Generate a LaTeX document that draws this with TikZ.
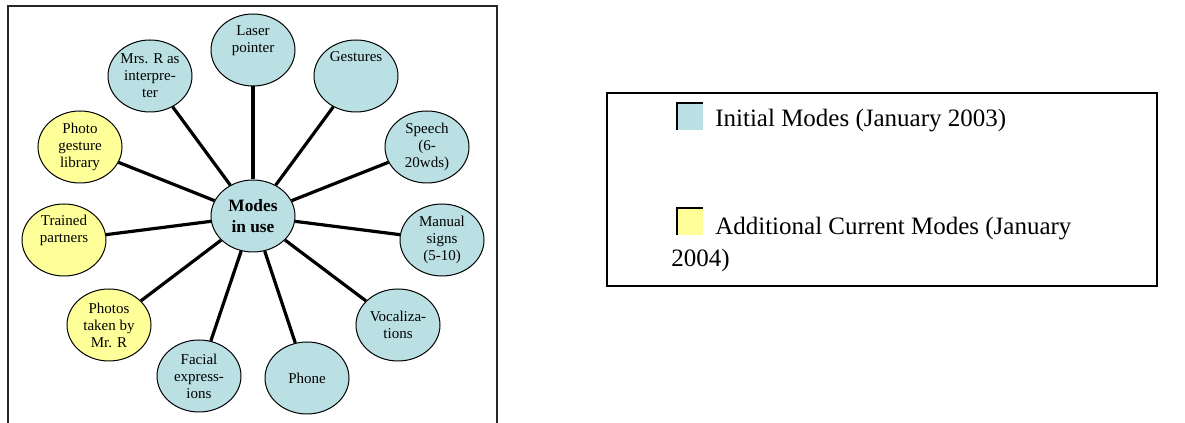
\documentclass[tikz,border=0pt]{standalone}
\usepackage{fontspec}
\setmainfont{Liberation Serif}
\usetikzlibrary{shapes.geometric}
\definecolor{initcyan}{RGB}{186,224,227}
\definecolor{addyellow}{RGB}{255,255,153}

\begin{document}
\begin{tikzpicture}[
    x=0.75pt, y=-0.75pt,
    every node/.style={font=\fontsize{11.25}{12.75}\selectfont},
    mode/.style={ellipse, draw, line width=0.75pt, inner sep=0pt, minimum width=63pt, minimum height=54pt, align=center},
    initmode/.style={mode, fill=initcyan},
    addmode/.style={mode, fill=addyellow},
    hubnode/.style={initmode, font=\bfseries\fontsize{13}{15.5}\selectfont},
    spoke/.style={line width=2.4pt},
    frame/.style={line width=1.1pt, black!85},
    legendtext/.style={font=\fontsize{18.75}{24}\selectfont, align=left, inner sep=0pt}
]
\useasboundingbox (0,0) rectangle (1185,423);
\draw[frame] (8,423) -- (8,6) -- (497,6) -- (497,423);
\node[hubnode] (hub) at (253,216) {Modes\\in use};
\node[initmode] (laser) at (253,50) {Laser\\pointer\\\strut};
\node[initmode] (gestures) at (356,76) {Gestures\\\strut\\\strut};
\node[initmode] (mrsr) at (150,76) {Mrs. R as\\interpre-\\ter};
\node[initmode] (speech) at (427,147) {Speech\\(6-\\20wds)};
\node[addmode] (photolib) at (80,147) {Photo\\gesture\\library};
\node[addmode] (trained) at (64,240) {Trained\\partners\\\strut};
\node[initmode] (manual) at (442,240) {Manual\\signs\\(5-10)};
\node[addmode] (photos) at (109,325) {Photos\\taken by\\Mr. R};
\node[initmode] (vocal) at (398,325) {Vocaliza-\\tions};
\node[initmode] (facial) at (199,376) {Facial\\express-\\ions};
\node[initmode] (phone) at (307,378) {Phone};
\foreach \m in {laser,gestures,mrsr,speech,photolib,trained,manual,photos,vocal,facial,phone}
  \draw[spoke] (hub) -- (\m);
\draw[line width=1.2pt] (607,93) rectangle (1157,286);
\fill[initcyan] (677,103) rectangle (703,130);
\draw[line width=1.4pt] (677,130) -- (677,103) -- (703,103);
\node[legendtext, anchor=base west] (initlabel) at (715,127) {Initial Modes (January 2003)};
\fill[addyellow] (677,208) rectangle (703,235);
\draw[line width=1.4pt] (677,235) -- (677,208) -- (703,208);
\node[legendtext, anchor=base west] (addlabel) at (671,267) {\hspace*{33pt}Additional Current Modes (January\\2004)};
\end{tikzpicture}
\end{document}
